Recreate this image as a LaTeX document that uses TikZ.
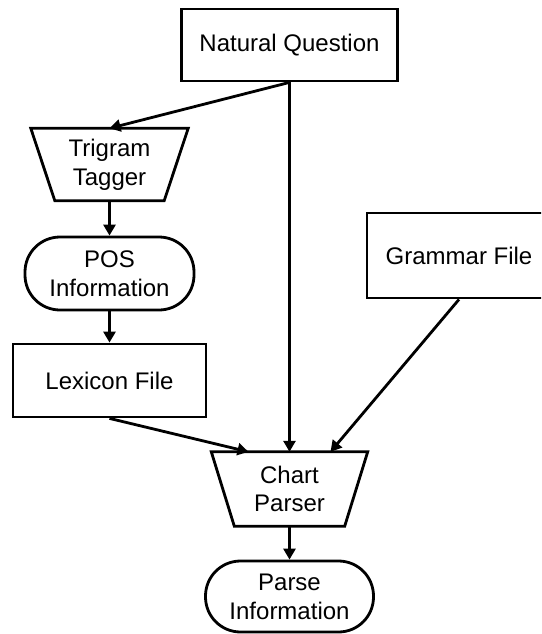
\documentclass[tikz,border=0pt]{standalone}
\usepackage{fontspec}
\setmainfont{Liberation Sans}
\usetikzlibrary{arrows.meta,calc}

% outline of a trapezoid node: wide top, narrower bottom
\newcommand\trapoutline[2]{%
  \draw[outline] (#1.north west) -- (#1.north east)
    -- ($(#1.south east)+(-#2,0)$) -- ($(#1.south west)+(#2,0)$) -- cycle;}

\begin{document}
\begin{tikzpicture}[x=1pt,y=-1pt,
  lbl/.style={font=\fontsize{24}{28.8}\selectfont, align=center, inner sep=0pt},
  outline/.style={line width=2.8pt},
  filebox/.style={lbl, draw, outline, rectangle},
  terminal/.style={lbl, draw, outline, rectangle, rounded corners=35pt},
  process/.style={lbl},
  flow/.style={outline, -{Triangle[length=11pt,width=12pt]}}
]
\clip (0,0) rectangle (541,634);

% nodes
\node[filebox, minimum width=216pt, minimum height=72pt] (question) at (289.5,45) {Natural Question};
\node[process, minimum width=157pt, minimum height=72pt] (tagger) at (109.5,164.5) {Trigram\\Tagger};
\trapoutline{tagger}{24}
\node[terminal, minimum width=169pt, minimum height=73pt] (pos) at (109.5,273.5) {POS\\Information};
\node[filebox, minimum width=193pt, minimum height=73pt] (lexicon) at (109.5,380.5) {Lexicon File};
\node[filebox, minimum width=184pt, minimum height=85pt] (grammar) at (459,255.5) {Grammar File};
\node[process, minimum width=156pt, minimum height=74pt] (chart) at (289.5,489) {Chart\\Parser};
\trapoutline{chart}{23}
\node[terminal, minimum width=168pt, minimum height=71pt] (parse) at (289.5,596.5) {Parse\\Information};

% entry points on the parser's top edge
\coordinate (chartL) at ($(chart.north)+(-41,0)$);
\coordinate (chartR) at ($(chart.north)+(41,0)$);

% connectors
\draw[flow] (question.south) -- (tagger.north);
\draw[flow] (question.south) -- (chart.north);
\draw[flow] (tagger.south) -- (pos.north);
\draw[flow] (pos.south) -- (lexicon.north);
\draw[flow] (lexicon.south) -- (chartL);
\draw[flow] (grammar.south) -- (chartR);
\draw[flow] (chart.south) -- (parse.north);
\end{tikzpicture}
\end{document}
